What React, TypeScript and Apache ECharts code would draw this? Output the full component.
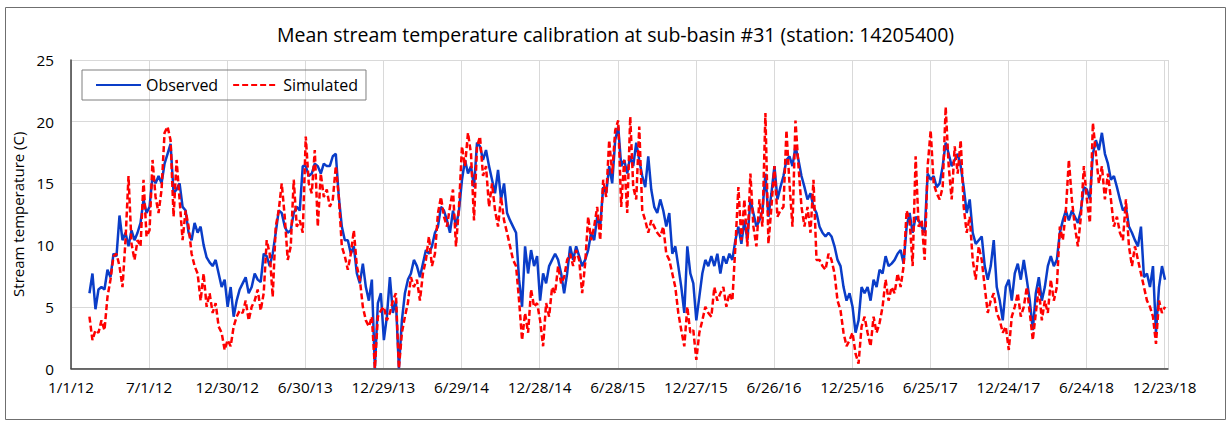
import React, { useEffect, useRef } from "react";
import * as echarts from "echarts";

// Axis origin: 1/1/12 = day 0. Weekly samples start 2012-02-13 (day 43).
const AXIS_ORIGIN = [2012, 0, 1];
const DATA_START_DAY = 43;
const STEP_DAYS = 7;
const X_MAX_DAY = 2556;
const X_TICK_DAYS = 182;
const Y_TICKS = [0, 5, 10, 15, 20, 25];

const observed = [
  6.1, 7.7, 4.8, 6.4, 6.6, 6.4, 8.0, 7.4, 9.3, 9.1, 12.4, 10.4, 11, 9.9, 11.2, 10.4, 11, 11.8, 13.7, 12.6, 13.1, 15.6, 15, 15.6, 15, 16.6, 17.4, 18.2, 14.2, 14.5, 15, 13.1, 12.8, 11, 10.4, 11.8,
  11.0, 11.5, 10.0, 9.0, 8.6, 8.3, 8.8, 7.7, 6.6, 7.2, 5.0, 6.6, 4.2, 5.5, 6.4, 6.9, 7.4, 6.1, 6.6, 7.7, 7.2, 7.0, 9.3, 9.1, 8.3, 9.3, 11, 12.8, 12.6, 11.5, 11, 11.2, 12.6, 13.1, 12.8, 16.4, 16.4, 15.6, 15.8, 16.6, 16.4, 15.8, 16.6, 16.4, 16.4, 17.2,
  17.4, 13.9, 11.5, 10.4, 10.4, 9.3, 9.9, 7.7, 6.9, 8.5, 6.6, 5.5, 7.2, 0, 5.3, 6.1, 2.3, 4.2, 7.4, 4.5, 5.5, 0, 3.9, 6.1, 7.2, 7.7, 8.8, 8.3, 7.4, 8.5, 9.6, 9.3, 9.9, 11, 11.5, 13.1, 12.8, 12, 11, 12.8, 11.5, 12.8, 15.3, 16.9, 15.8, 16.4, 14.7,
  18.3, 18, 16.9, 17.7, 16.4, 15.3, 14.2, 16.1, 13.7, 15, 12.6, 12, 11.5, 11, 7.2, 5.0, 9.9, 7.7, 9.6, 8.3, 9.1, 5.5, 7.7, 6.9, 8.3, 8.8, 9.3, 8.8, 7.7, 6.1, 7.7, 9.9, 8.8, 9.9, 9.1, 8.3, 8.8, 9.6, 11, 10.4, 12.3, 11.5, 14.7, 14.2, 16.4, 15,
  18.5, 19.6, 16.4, 16.9, 15.8, 17.2, 16.4, 18.3, 16.9, 15.6, 14.7, 17.2, 14.5, 13.1, 12.6, 13.7, 12.8, 11.5, 12.6, 9.3, 9.9, 8.3, 6.6, 4.5, 9.9, 7.7, 6.9, 3.9, 5.8, 7.7, 8.8, 8.3, 9.1, 8.3, 9.3, 7.7, 9.1, 8.5, 9.3, 8.8, 10.4, 11.5, 10.1, 12, 10.4, 13.7, 12.6,
  11.5, 12, 12.8, 15.8, 12.3, 14.2, 16.4, 13.7, 14.7, 15.6, 16.9, 17.2, 16.4, 18, 16.9, 15.6, 14.7, 13.7, 14.2, 13.1, 12.6, 11.5, 11, 10.7, 11, 10.7, 9.9, 8.8, 8.3, 6.6, 5.5, 6.1, 5.0, 2.9, 3.9, 6.6, 6.1, 6.6, 5.5, 7.2, 6.6, 8.0, 7.7, 9.1, 8.3, 8.5, 8.8,
  9.3, 9.6, 8.5, 11.5, 12.6, 11, 12.3, 12, 11.5, 11, 15.8, 15.3, 15.6, 14.7, 15, 16.4, 18.3, 17.4, 16.4, 16.9, 17.4, 16.4, 14.7, 12.6, 13.7, 11, 10.1, 10.4, 10.7, 8.3, 7.2, 8.3, 10.4, 6.6, 5.5, 3.9, 6.6, 7.2, 5.5, 7.7, 8.5, 7.2, 8.8, 7.2, 5.5, 3.1,
  6.1, 7.4, 5.5, 6.6, 8.3, 9.1, 8.3, 8.8, 11, 12, 12.8, 12, 12.8, 12.3, 11.8, 12.8, 14.7, 14.5, 13.7, 17.4, 18.5, 17.7, 19.1, 17.4, 16.6, 15.3, 15.6, 14.7, 13.7, 12.8, 13.1, 11.5, 11, 10.4, 9.9, 11.5, 7.4, 7.7, 6.6, 8.3, 2.9, 6.6, 8.3, 7.2,
];

const simulated = [
  4.2, 2.3, 3.1, 2.9, 3.9, 3.1, 5.8, 7.2, 9.1, 9.3, 8.3, 6.6, 10.4, 15.6, 10.1, 8.8, 10.4, 9.9, 15.3, 10.7, 11.2, 16.9, 13.9, 12.6, 14.5, 19.1, 19.6, 18.5, 12.3, 16.9, 13.7, 10.4, 12.8, 11.5, 9.3, 8.3,
  7.7, 5.5, 7.7, 5.0, 6.1, 4.5, 5.3, 3.4, 2.9, 1.5, 2.3, 1.8, 3.4, 4.2, 4.7, 4.5, 5.5, 3.9, 5.0, 5.5, 6.4, 4.7, 6.1, 10.4, 9.3, 5.8, 11.5, 12.8, 15, 12.3, 8.8, 9.9, 15.3, 11.5, 12, 11, 18.8, 15, 14.2, 17.7, 11.5, 15.8, 13.9, 14.5, 13.1, 13.7,
  16.4, 13.9, 9.9, 9.1, 8.0, 9.3, 11.2, 8.3, 7.2, 5.0, 3.9, 3.4, 4.2, 0, 4.2, 4.7, 5.0, 3.9, 4.5, 5.5, 6.1, 0, 2.9, 4.2, 5.3, 7.4, 6.6, 7.2, 5.5, 7.7, 8.8, 10.7, 8.3, 9.3, 12.6, 13.9, 12.3, 11.5, 13.1, 14.5, 9.9, 13.1, 18, 16.4, 19.1, 17.4, 12,
  18, 18.8, 15.6, 16.4, 13.1, 15, 12.8, 11.5, 13.9, 12, 11, 9.9, 8.8, 8.3, 5.5, 2.3, 4.5, 2.9, 6.4, 5.0, 5.3, 3.9, 1.8, 5.3, 4.2, 6.6, 6.1, 8.3, 6.9, 7.4, 8.8, 9.3, 8.3, 9.6, 8.8, 6.1, 8.5, 12.3, 10.4, 11.5, 13.1, 10.4, 15.3, 13.9, 18.5, 15.8,
  19.3, 20.1, 13.1, 16.9, 12.6, 20.4, 14.7, 13.7, 19.6, 12.8, 12, 11, 12, 11.5, 11, 10.7, 11.5, 9.3, 8.8, 7.7, 6.6, 4.5, 3.1, 1.8, 5.0, 2.9, 3.1, 0.7, 2.9, 3.9, 5.0, 4.5, 4.2, 6.6, 5.5, 6.1, 6.6, 5.0, 6.1, 5.5, 9.9, 14.7, 10.4, 13.7, 9.9, 15.8, 11.5,
  9.9, 13.7, 11.5, 20.7, 10.1, 13.1, 16.4, 12.3, 12.8, 13.1, 19.3, 15, 11.5, 20.1, 16.4, 13.1, 11.5, 13.1, 11, 15.3, 8.8, 8.8, 8.3, 8.0, 9.3, 8.8, 7.7, 5.5, 4.7, 2.9, 1.8, 2.3, 2.9, 1.2, 0.4, 3.4, 4.2, 2.9, 1.8, 4.2, 2.9, 3.7, 5.0, 7.2, 5.5, 6.6, 6.1,
  7.7, 6.6, 8.3, 12.8, 12, 8.3, 17.2, 11.5, 12, 8.8, 16.4, 19.3, 15, 14.2, 13.7, 14.7, 21.2, 16.4, 13.7, 18, 15.8, 18.5, 13.1, 11, 12.3, 8.8, 7.2, 9.9, 8.8, 6.6, 4.5, 5.5, 6.1, 4.5, 3.9, 2.9, 3.4, 1.5, 4.2, 5.0, 6.1, 4.2, 5.0, 6.6, 4.5, 2.3,
  4.5, 6.6, 3.9, 5.5, 4.5, 7.2, 5.5, 6.6, 11.5, 10.4, 12.8, 16.9, 13.7, 11.5, 9.9, 12.3, 16.4, 13.7, 11.8, 19.9, 17.4, 15, 16.4, 13.7, 15.8, 13.7, 11.5, 12.3, 11, 10.4, 13.7, 9.9, 8.3, 9.9, 8.8, 7.7, 6.6, 5.5, 5.0, 4.2, 2.0, 5.5, 4.5, 5.0,
];

const TITLE = "Mean stream temperature calibration at sub-basin #31 (station: 14205400)";
const Y_NAME = "Stream temperature (C)";
const SERIES_NAMES = ["Observed", "Simulated"];

const FONT = "'Open Sans', 'Noto Sans', sans-serif";

function toPairs(values: number[]) {
  return values.map((v, i) => [DATA_START_DAY + i * STEP_DAYS, v]);
}

function dayLabel(v: number) {
  if (v % X_TICK_DAYS !== 0) return "";
  const d = new Date(AXIS_ORIGIN[0], AXIS_ORIGIN[1], AXIS_ORIGIN[2] + v);
  return `${d.getMonth() + 1}/${d.getDate()}/${String(d.getFullYear()).slice(2)}`;
}

export default function App() {
  const ref = useRef<HTMLDivElement>(null);
  useEffect(() => {
    document.body.style.margin = "0";
    const chart = echarts.init(ref.current!, undefined, { renderer: "svg" });
    chart.setOption({
      animation: false,
      backgroundColor: "#ffffff",
      textStyle: { fontFamily: FONT },
      title: {
        text: TITLE,
        left: "center",
        top: 19,
        textStyle: { fontFamily: FONT, fontSize: 19.5, fontWeight: "normal", color: "#000" },
      },
      legend: {
        data: SERIES_NAMES,
        left: 82,
        top: 70,
        orient: "horizontal",
        padding: [7, 8, 7, 13],
        itemWidth: 45,
        itemHeight: 14,
        itemGap: 14,
        borderColor: "#7f7f7f",
        borderWidth: 1,
        itemStyle: { color: "transparent", borderWidth: 0, opacity: 0 },
        textStyle: { fontFamily: FONT, fontSize: 16, color: "#000" },
      },
      grid: { left: 71, right: 63, top: 60, bottom: 52.5, containLabel: false },
      xAxis: {
        type: "value",
        min: 0,
        max: X_MAX_DAY,
        interval: X_TICK_DAYS,
        axisLine: { show: true, lineStyle: { color: "#404040", width: 1.5 } },
        axisTick: { show: false },
        axisLabel: {
          formatter: dayLabel,
          showMaxLabel: false,
          margin: 11,
          fontFamily: FONT,
          fontSize: 15.3,
          color: "#000",
        },
        splitLine: { show: true, lineStyle: { color: "#d9d9d9", width: 1 } },
      },
      yAxis: {
        type: "value",
        min: Y_TICKS[0],
        max: Y_TICKS[Y_TICKS.length - 1],
        interval: Y_TICKS[1] - Y_TICKS[0],
        name: Y_NAME,
        nameLocation: "middle",
        nameGap: 42,
        nameTextStyle: { fontFamily: FONT, fontSize: 15, color: "#000" },
        axisLine: { show: true, lineStyle: { color: "#404040", width: 1.5 } },
        axisTick: { show: false },
        axisLabel: { margin: 17, fontFamily: FONT, fontSize: 15.3, color: "#000" },
        splitLine: { show: true, lineStyle: { color: "#d9d9d9", width: 1 } },
      },
      series: [
        {
          name: SERIES_NAMES[0],
          type: "line",
          data: toPairs(observed),
          showSymbol: false,
          symbol: "none",
          lineStyle: { color: "#0a3dc8", width: 2.5 },
          itemStyle: { color: "#0a3dc8" },
          z: 2,
        },
        {
          name: SERIES_NAMES[1],
          type: "line",
          data: toPairs(simulated),
          showSymbol: false,
          symbol: "none",
          lineStyle: { color: "#ff0000", width: 2.5, type: [6, 3] },
          itemStyle: { color: "#ff0000" },
          z: 3,
        },
      ],
      graphic: [
        {
          type: "rect",
          shape: { x: 5.5, y: 7.5, width: 1220, height: 412 },
          style: { fill: "none", stroke: "#6f6f6f", lineWidth: 1 },
          silent: true,
          z: 0,
        },
      ],
    });
    return () => chart.dispose();
  }, []);
  return <div ref={ref} style={{ width: 1231, height: 421 }} />;
}
